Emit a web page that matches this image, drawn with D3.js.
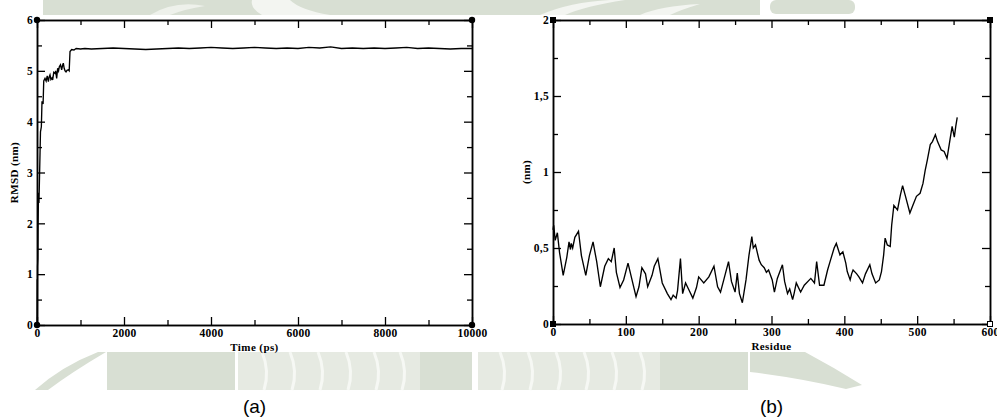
<!DOCTYPE html>
<html>
<head>
<meta charset="utf-8">
<script src="https://cdn.jsdelivr.net/npm/d3@7"></script>
<style>
  body { margin: 0; background: #fff; }
  svg { display: block; }
  .tick text { font-family: "Liberation Serif", "Times New Roman", serif; font-weight: bold; font-size: 11.5px; fill: #000; letter-spacing: 0.3px; }
  .axis-label { font-family: "Liberation Serif", "Times New Roman", serif; font-weight: bold; font-size: 11px; letter-spacing: 0.4px; }
  .panel-label { font-family: "Liberation Sans", Arial, sans-serif; font-size: 19px; }
</style>
</head>
<body>
<svg id="fig" width="997" height="420"></svg>
<script>
// (a) RMSD vs time
const timeA = [0, 4, 8, 12, 20, 25, 35, 45, 60, 70, 80, 100, 115, 140, 155, 184, 210, 235, 261, 280, 299, 320, 345, 360, 385,
  414, 430, 452, 475, 495, 513, 540, 567, 585, 605, 625, 645, 667, 690, 720, 740, 759, 797, 850, 900, 1000, 1100,
  1250, 1500, 1750, 2000, 2250, 2500, 2750, 3000, 3250, 3500, 3750, 4000, 4250, 4500, 4750, 5000, 5250, 5500,
  5750, 6000, 6250, 6500, 6750, 7000, 7250, 7500, 7750, 8000, 8250, 8500, 8750, 9000, 9250, 9500, 9750, 10000];
const rmsdA = [0, 0.9, 0.2, 1.15, 1.3, 2.0, 2.6, 2.4, 3.0, 3.4, 3.8, 3.9, 4.4, 4.35, 4.8, 4.85, 4.80, 4.90, 4.79, 4.88, 4.92, 4.83, 4.86, 4.82, 4.97,
  4.95, 5.00, 4.85, 5.05, 5.00, 5.08, 5.12, 5.02, 5.10, 5.15, 5.05, 5.00, 4.98, 5.01, 5.02, 5.00, 5.38, 5.42, 5.41, 5.44, 5.43, 5.44,
  5.43, 5.44, 5.45, 5.44, 5.43, 5.42, 5.43, 5.44, 5.45, 5.44, 5.45, 5.46, 5.45, 5.44, 5.45, 5.46, 5.45, 5.44,
  5.45, 5.44, 5.46, 5.45, 5.47, 5.44, 5.45, 5.44, 5.45, 5.44, 5.45, 5.46, 5.44, 5.45, 5.44, 5.43, 5.44, 5.44];

// (b) per-residue values
const residueB = [0, 1, 3, 6, 9, 14, 19, 22, 24, 25, 27, 30, 35, 39, 45, 50, 55, 60, 65, 71, 76, 80, 84, 87, 92, 97, 103, 108, 114, 118,
  122, 127, 130, 136, 139, 144, 150, 157, 162, 165, 169, 171, 175, 178, 182, 187, 192, 197, 200, 207, 214, 221, 226, 230, 235,
  241, 245, 250, 253, 256, 260, 265, 269, 273, 275, 278, 283, 286, 290, 293, 296, 301, 304, 308, 315, 318, 322, 325, 329, 331, 334, 340, 345, 354,
  359, 362, 366, 372, 377, 381, 386, 389, 394, 398, 402, 404, 408, 410, 412, 417, 420, 425, 429, 435, 438, 443, 448, 451, 454,
  456, 459, 463, 465, 468, 473, 477, 480, 484, 490, 494, 499, 504, 508, 511, 514, 518, 521, 525, 528, 533, 537, 541, 544,
  548, 551, 553, 555];
const rmsfB = [0.62, 0.65, 0.55, 0.60, 0.47, 0.32, 0.44, 0.54, 0.49, 0.53, 0.50, 0.57, 0.61, 0.45, 0.32, 0.45, 0.54, 0.41, 0.245, 0.38, 0.43, 0.41, 0.50, 0.34, 0.24, 0.29, 0.40, 0.30, 0.18, 0.245,
  0.37, 0.33, 0.245, 0.32, 0.38, 0.43, 0.27, 0.20, 0.16, 0.19, 0.17, 0.22, 0.43, 0.20, 0.27, 0.22, 0.17, 0.24, 0.31, 0.27, 0.31, 0.38, 0.245, 0.21, 0.30,
  0.41, 0.28, 0.21, 0.335, 0.20, 0.14, 0.29, 0.45, 0.575, 0.50, 0.52, 0.42, 0.39, 0.37, 0.34, 0.355, 0.29, 0.21, 0.30, 0.39, 0.28, 0.20, 0.23, 0.16, 0.20, 0.27, 0.21, 0.255, 0.30,
  0.27, 0.41, 0.255, 0.255, 0.355, 0.42, 0.50, 0.53, 0.455, 0.475, 0.40, 0.345, 0.29, 0.33, 0.355, 0.33, 0.31, 0.27, 0.33, 0.39, 0.33, 0.27, 0.29, 0.345, 0.455,
  0.565, 0.52, 0.51, 0.65, 0.78, 0.75, 0.85, 0.91, 0.84, 0.73, 0.78, 0.84, 0.86, 0.925, 1.01, 1.08, 1.18, 1.20, 1.245, 1.20, 1.145, 1.135, 1.09, 1.18,
  1.30, 1.23, 1.30, 1.36];

const xTicksA = [0, 2000, 4000, 6000, 8000, 10000];
const xMinorA = [1000, 3000, 5000, 7000, 9000];
const yTicksA = [0, 1, 2, 3, 4, 5, 6];
const yMinorA = [0.5, 1.5, 2.5, 3.5, 4.5, 5.5];
const xTicksB = [0, 100, 200, 300, 400, 500, 600];
const xMinorB = [50, 150, 250, 350, 450, 550];
const yTicksB = [0, 0.5, 1, 1.5, 2];
const yMinorB = [0.25, 0.75, 1.25, 1.75];

const svg = d3.select('#fig');

// ── Faint watermark behind the figure ─────────────────────────
const wm = svg.append('g');
const WM = '#d8dfd3', WM2 = '#e6eae2';
wm.append('rect').attr('x', 43).attr('y', 0).attr('width', 717).attr('height', 15).attr('fill', WM);
wm.append('path').attr('d', 'M150,15 Q175,0 205,6 Q185,9 170,15 Z').attr('fill', '#eef1eb');
wm.append('path').attr('d', 'M252,0 L290,0 Q300,10 330,15 L262,15 Q250,8 252,0 Z').attr('fill', '#f3f5f1');
wm.append('path').attr('d', 'M540,15 Q570,2 610,0 L625,0 Q585,6 565,15 Z').attr('fill', '#f3f5f1');
wm.append('path').attr('d', 'M640,15 Q660,6 700,4 Q680,10 670,15 Z').attr('fill', '#f3f5f1');
wm.append('rect').attr('x', 770).attr('y', 0).attr('width', 85).attr('height', 14).attr('rx', 6).attr('fill', WM);
wm.append('path').attr('d', 'M35,390 Q62,366 98,352 L106,352 Q72,372 48,390 Z').attr('fill', WM);
wm.append('rect').attr('x', 107).attr('y', 352).attr('width', 128).attr('height', 38).attr('fill', WM);
wm.append('rect').attr('x', 238).attr('y', 352).attr('width', 182).attr('height', 38).attr('fill', WM2);
wm.append('rect').attr('x', 420).attr('y', 352).attr('width', 52).attr('height', 38).attr('fill', WM);
wm.append('rect').attr('x', 478).attr('y', 352).attr('width', 182).attr('height', 38).attr('fill', WM2);
wm.append('rect').attr('x', 660).attr('y', 352).attr('width', 88).attr('height', 38).attr('fill', WM);
wm.append('path').attr('d', 'M750,352 L805,352 Q835,368 862,385 L846,389 Q800,378 750,372 Z').attr('fill', WM);
[262, 290, 318, 346, 374, 400, 500, 528, 556, 584, 612, 640].forEach(sx => {
  wm.append('path').attr('d', `M${sx},352 Q${sx + 8},371 ${sx + 2},390`).attr('stroke', '#f6f8f4')
    .attr('stroke-width', 3).attr('fill', 'none');
});

// ── Panel drawing ─────────────────────────────────────────────
function drawPanel(p) {
  const g = svg.append('g');
  const x = d3.scaleLinear().domain(p.xDomain).range([p.left, p.right]);
  const y = d3.scaleLinear().domain(p.yDomain).range([p.bottom, p.top]);

  g.append('rect').attr('x', p.left).attr('y', p.top)
    .attr('width', p.right - p.left).attr('height', p.bottom - p.top).attr('fill', '#fff');

  const fmt = d => String(d).replace('.', ',');
  const style = sel => {
    sel.select('.domain').attr('stroke', '#000').attr('stroke-width', 1.5);
    sel.selectAll('.tick line').attr('stroke', '#000').attr('stroke-width', 1.3);
  };

  g.append('g').attr('transform', `translate(0,${p.bottom})`)
    .call(d3.axisBottom(x).tickValues(p.xTicks).tickSize(-8).tickSizeOuter(0).tickPadding(4).tickFormat(fmt)).call(style);
  g.append('g').attr('transform', `translate(0,${p.bottom})`)
    .call(d3.axisBottom(x).tickValues(p.xMinor).tickSize(-5).tickSizeOuter(0).tickFormat('')).call(style);
  g.append('g').attr('transform', `translate(0,${p.top})`)
    .call(d3.axisTop(x).tickValues(p.xTicks).tickSize(-8).tickSizeOuter(0).tickFormat('')).call(style);
  g.append('g').attr('transform', `translate(0,${p.top})`)
    .call(d3.axisTop(x).tickValues(p.xMinor).tickSize(-5).tickSizeOuter(0).tickFormat('')).call(style);
  g.append('g').attr('transform', `translate(${p.left},0)`)
    .call(d3.axisLeft(y).tickValues(p.yTicks).tickSize(-8).tickSizeOuter(0).tickPadding(4).tickFormat(fmt)).call(style);
  g.append('g').attr('transform', `translate(${p.left},0)`)
    .call(d3.axisLeft(y).tickValues(p.yMinor).tickSize(-5).tickSizeOuter(0).tickFormat('')).call(style);
  g.append('g').attr('transform', `translate(${p.right},0)`)
    .call(d3.axisRight(y).tickValues(p.yTicks).tickSize(-8).tickSizeOuter(0).tickFormat('')).call(style);
  g.append('g').attr('transform', `translate(${p.right},0)`)
    .call(d3.axisRight(y).tickValues(p.yMinor).tickSize(-5).tickSizeOuter(0).tickFormat('')).call(style);

  const line = d3.line().x((d, i) => x(p.xs[i])).y(d => y(d));
  g.append('path').datum(p.ys).attr('d', line)
    .attr('fill', 'none').attr('stroke', '#000').attr('stroke-width', 1.35).attr('stroke-linejoin', 'miter');

  // corner markers
  const corners = [[p.left, p.top], [p.right, p.top], [p.left, p.bottom], [p.right, p.bottom]];
  corners.forEach(([cx, cy], i) => {
    if (p.marker === 'circle') {
      g.append('circle').attr('cx', cx).attr('cy', cy).attr('r', 3.2).attr('fill', '#000');
    } else {
      g.append('rect').attr('x', cx - 2.5).attr('y', cy - 2.5).attr('width', 5).attr('height', 5)
        .attr('fill', i === 3 ? '#fff' : '#000').attr('stroke', '#000').attr('stroke-width', 1);
    }
  });

  g.append('text').attr('class', 'axis-label').attr('text-anchor', 'middle')
    .attr('x', (p.left + p.right) / 2).attr('y', p.bottom + 26).text(p.xLabel);
  g.append('text').attr('class', 'axis-label').attr('text-anchor', 'middle')
    .attr('transform', `translate(${p.yLabelX},${(p.top + p.bottom) / 2}) rotate(-90)`).text(p.yLabel);
  g.append('text').attr('class', 'panel-label').attr('text-anchor', 'middle')
    .attr('x', (p.left + p.right) / 2).attr('y', 413).text(p.panel);
}

drawPanel({
  left: 37, right: 472, top: 20, bottom: 325,
  xDomain: [0, 10000], yDomain: [0, 6],
  xTicks: xTicksA, xMinor: xMinorA, yTicks: yTicksA, yMinor: yMinorA,
  xs: timeA, ys: rmsdA, marker: 'circle',
  xLabel: 'Time (ps)', yLabel: 'RMSD (nm)', yLabelX: 18, panel: '(a)'
});

drawPanel({
  left: 553, right: 990, top: 20, bottom: 324,
  xDomain: [0, 600], yDomain: [0, 2],
  xTicks: xTicksB, xMinor: xMinorB, yTicks: yTicksB, yMinor: yMinorB,
  xs: residueB, ys: rmsfB, marker: 'square',
  xLabel: 'Residue', yLabel: '(nm)', yLabelX: 530, panel: '(b)'
});
</script>
</body>
</html>
